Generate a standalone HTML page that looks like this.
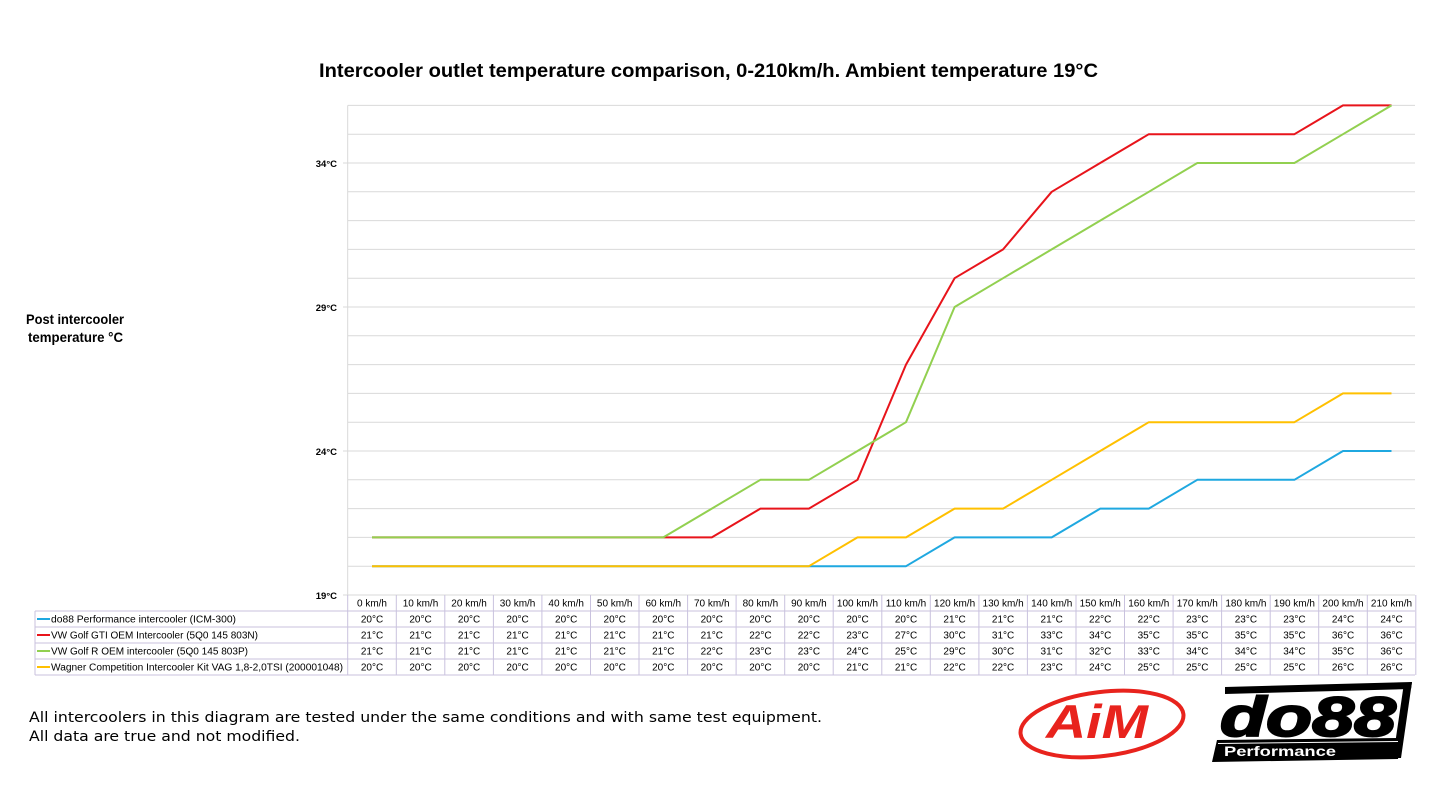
<!DOCTYPE html>
<html><head><meta charset="utf-8"><style>
html,body{margin:0;padding:0;background:#fff;}
svg{display:block;}
</style></head><body>
<svg width="1445" height="791" viewBox="0 0 1445 791" xmlns="http://www.w3.org/2000/svg">
<rect width="1445" height="791" fill="#fff"/>
<!-- Title -->
<text x="319" y="77" font-family="Liberation Sans, sans-serif" font-weight="bold" font-size="19" fill="#000" textLength="779" lengthAdjust="spacingAndGlyphs">Intercooler outlet temperature comparison, 0-210km/h. Ambient temperature 19°C</text>
<!-- Y axis title -->
<text x="26" y="324" font-family="Liberation Sans, sans-serif" font-weight="bold" font-size="14" textLength="98" lengthAdjust="spacingAndGlyphs">Post intercooler</text>
<text x="28" y="342" font-family="Liberation Sans, sans-serif" font-weight="bold" font-size="14" textLength="95" lengthAdjust="spacingAndGlyphs">temperature °C</text>
<!-- gridlines -->
<g stroke="#d9d9d9" stroke-width="1">
<line x1="347.7" y1="105.4" x2="1415" y2="105.4"/>
<line x1="347.7" y1="134.2" x2="1415" y2="134.2"/>
<line x1="343" y1="163" x2="1415" y2="163"/>
<line x1="347.7" y1="191.8" x2="1415" y2="191.8"/>
<line x1="347.7" y1="220.6" x2="1415" y2="220.6"/>
<line x1="347.7" y1="249.4" x2="1415" y2="249.4"/>
<line x1="347.7" y1="278.2" x2="1415" y2="278.2"/>
<line x1="343" y1="307" x2="1415" y2="307"/>
<line x1="347.7" y1="335.8" x2="1415" y2="335.8"/>
<line x1="347.7" y1="364.6" x2="1415" y2="364.6"/>
<line x1="347.7" y1="393.4" x2="1415" y2="393.4"/>
<line x1="347.7" y1="422.2" x2="1415" y2="422.2"/>
<line x1="343" y1="451" x2="1415" y2="451"/>
<line x1="347.7" y1="479.8" x2="1415" y2="479.8"/>
<line x1="347.7" y1="508.6" x2="1415" y2="508.6"/>
<line x1="347.7" y1="537.4" x2="1415" y2="537.4"/>
<line x1="347.7" y1="566.2" x2="1415" y2="566.2"/>
<line x1="343" y1="595" x2="1415" y2="595"/>
<line x1="347.7" y1="105.4" x2="347.7" y2="595"/>
</g>
<!-- y tick labels -->
<g font-family="Liberation Sans, sans-serif" font-weight="bold" font-size="9.5" text-anchor="end" fill="#000">
<text x="337" y="167">34°C</text>
<text x="337" y="311">29°C</text>
<text x="337" y="455">24°C</text>
<text x="337" y="599">19°C</text>
</g>
<!-- series -->
<g fill="none" stroke-width="2" stroke-linejoin="round">
<polyline stroke="#1fa8e0" points="372,566.2 906,566.2 954.6,537.4 1051.7,537.4 1100.2,508.6 1148.8,508.6 1197.3,479.8 1294.4,479.8 1343,451 1391.5,451"/>
<polyline stroke="#e8141b" points="372,537.4 711.8,537.4 760.4,508.6 808.9,508.6 857.5,479.8 906,364.6 954.6,278.2 1003.1,249.4 1051.7,191.8 1100.2,163 1148.8,134.2 1294.4,134.2 1343,105.4 1391.5,105.4"/>
<polyline stroke="#92d050" points="372,537.4 663.3,537.4 711.8,508.6 760.4,479.8 808.9,479.8 857.5,451 906,422.2 954.6,307 1003.1,278.2 1051.7,249.4 1100.2,220.6 1148.8,191.8 1197.3,163 1294.4,163 1343,134.2 1391.5,105.4"/>
<polyline stroke="#ffc000" points="372,566.2 808.9,566.2 857.5,537.4 906,537.4 954.6,508.6 1003.1,508.6 1051.7,479.8 1100.2,451 1148.8,422.2 1294.4,422.2 1343,393.4 1391.5,393.4"/>
</g>
<!-- table grid -->
<g stroke="#c9c2de" stroke-width="1">
<line x1="347.7" y1="611" x2="1415" y2="611"/>
<line x1="35" y1="611" x2="347.7" y2="611"/>
<line x1="35" y1="627" x2="1415" y2="627"/>
<line x1="35" y1="643" x2="1415" y2="643"/>
<line x1="35" y1="659" x2="1415" y2="659"/>
<line x1="35" y1="675" x2="1415" y2="675"/>
<line x1="35" y1="611" x2="35" y2="675"/>
<line x1="347.7" y1="595" x2="347.7" y2="675"/>
<line x1="396.3" y1="595" x2="396.3" y2="675"/>
<line x1="444.8" y1="595" x2="444.8" y2="675"/>
<line x1="493.4" y1="595" x2="493.4" y2="675"/>
<line x1="541.9" y1="595" x2="541.9" y2="675"/>
<line x1="590.5" y1="595" x2="590.5" y2="675"/>
<line x1="639" y1="595" x2="639" y2="675"/>
<line x1="687.6" y1="595" x2="687.6" y2="675"/>
<line x1="736.1" y1="595" x2="736.1" y2="675"/>
<line x1="784.7" y1="595" x2="784.7" y2="675"/>
<line x1="833.2" y1="595" x2="833.2" y2="675"/>
<line x1="881.8" y1="595" x2="881.8" y2="675"/>
<line x1="930.3" y1="595" x2="930.3" y2="675"/>
<line x1="978.9" y1="595" x2="978.9" y2="675"/>
<line x1="1027.4" y1="595" x2="1027.4" y2="675"/>
<line x1="1076" y1="595" x2="1076" y2="675"/>
<line x1="1124.5" y1="595" x2="1124.5" y2="675"/>
<line x1="1173.1" y1="595" x2="1173.1" y2="675"/>
<line x1="1221.6" y1="595" x2="1221.6" y2="675"/>
<line x1="1270.2" y1="595" x2="1270.2" y2="675"/>
<line x1="1318.7" y1="595" x2="1318.7" y2="675"/>
<line x1="1367.3" y1="595" x2="1367.3" y2="675"/>
<line x1="1415.8" y1="595" x2="1415.8" y2="675"/>
</g>
<!-- legend -->
<g stroke-width="2">
<line x1="37" y1="619" x2="50" y2="619" stroke="#1fa8e0"/>
<line x1="37" y1="635" x2="50" y2="635" stroke="#e8141b"/>
<line x1="37" y1="651" x2="50" y2="651" stroke="#92d050"/>
<line x1="37" y1="667" x2="50" y2="667" stroke="#ffc000"/>
</g>
<g font-family="Liberation Sans, sans-serif" font-size="10" fill="#000">
<text x="51" y="622.5" textLength="185" lengthAdjust="spacingAndGlyphs">do88 Performance intercooler (ICM-300)</text>
<text x="51" y="638.5" textLength="207" lengthAdjust="spacingAndGlyphs">VW Golf GTI OEM Intercooler (5Q0 145 803N)</text>
<text x="51" y="654.5" textLength="197" lengthAdjust="spacingAndGlyphs">VW Golf R OEM intercooler (5Q0 145 803P)</text>
<text x="51" y="670.5" textLength="292" lengthAdjust="spacingAndGlyphs">Wagner Competition Intercooler Kit VAG 1,8-2,0TSI (200001048)</text>
</g>
<!-- table values -->
<g font-family="Liberation Sans, sans-serif" font-size="10" fill="#000" text-anchor="middle">
<text x="372" y="606.5">0 km/h</text><text x="420.5" y="606.5">10 km/h</text><text x="469.1" y="606.5">20 km/h</text><text x="517.6" y="606.5">30 km/h</text><text x="566.2" y="606.5">40 km/h</text><text x="614.7" y="606.5">50 km/h</text><text x="663.3" y="606.5">60 km/h</text><text x="711.8" y="606.5">70 km/h</text><text x="760.4" y="606.5">80 km/h</text><text x="808.9" y="606.5">90 km/h</text><text x="857.5" y="606.5">100 km/h</text><text x="906" y="606.5">110 km/h</text><text x="954.6" y="606.5">120 km/h</text><text x="1003.1" y="606.5">130 km/h</text><text x="1051.7" y="606.5">140 km/h</text><text x="1100.2" y="606.5">150 km/h</text><text x="1148.8" y="606.5">160 km/h</text><text x="1197.3" y="606.5">170 km/h</text><text x="1245.9" y="606.5">180 km/h</text><text x="1294.4" y="606.5">190 km/h</text><text x="1343" y="606.5">200 km/h</text><text x="1391.5" y="606.5">210 km/h</text>

<text x="372" y="622.5">20°C</text><text x="420.5" y="622.5">20°C</text><text x="469.1" y="622.5">20°C</text><text x="517.6" y="622.5">20°C</text><text x="566.2" y="622.5">20°C</text><text x="614.7" y="622.5">20°C</text><text x="663.3" y="622.5">20°C</text><text x="711.8" y="622.5">20°C</text><text x="760.4" y="622.5">20°C</text><text x="808.9" y="622.5">20°C</text><text x="857.5" y="622.5">20°C</text><text x="906" y="622.5">20°C</text><text x="954.6" y="622.5">21°C</text><text x="1003.1" y="622.5">21°C</text><text x="1051.7" y="622.5">21°C</text><text x="1100.2" y="622.5">22°C</text><text x="1148.8" y="622.5">22°C</text><text x="1197.3" y="622.5">23°C</text><text x="1245.9" y="622.5">23°C</text><text x="1294.4" y="622.5">23°C</text><text x="1343" y="622.5">24°C</text><text x="1391.5" y="622.5">24°C</text>

<text x="372" y="638.5">21°C</text><text x="420.5" y="638.5">21°C</text><text x="469.1" y="638.5">21°C</text><text x="517.6" y="638.5">21°C</text><text x="566.2" y="638.5">21°C</text><text x="614.7" y="638.5">21°C</text><text x="663.3" y="638.5">21°C</text><text x="711.8" y="638.5">21°C</text><text x="760.4" y="638.5">22°C</text><text x="808.9" y="638.5">22°C</text><text x="857.5" y="638.5">23°C</text><text x="906" y="638.5">27°C</text><text x="954.6" y="638.5">30°C</text><text x="1003.1" y="638.5">31°C</text><text x="1051.7" y="638.5">33°C</text><text x="1100.2" y="638.5">34°C</text><text x="1148.8" y="638.5">35°C</text><text x="1197.3" y="638.5">35°C</text><text x="1245.9" y="638.5">35°C</text><text x="1294.4" y="638.5">35°C</text><text x="1343" y="638.5">36°C</text><text x="1391.5" y="638.5">36°C</text>

<text x="372" y="654.5">21°C</text><text x="420.5" y="654.5">21°C</text><text x="469.1" y="654.5">21°C</text><text x="517.6" y="654.5">21°C</text><text x="566.2" y="654.5">21°C</text><text x="614.7" y="654.5">21°C</text><text x="663.3" y="654.5">21°C</text><text x="711.8" y="654.5">22°C</text><text x="760.4" y="654.5">23°C</text><text x="808.9" y="654.5">23°C</text><text x="857.5" y="654.5">24°C</text><text x="906" y="654.5">25°C</text><text x="954.6" y="654.5">29°C</text><text x="1003.1" y="654.5">30°C</text><text x="1051.7" y="654.5">31°C</text><text x="1100.2" y="654.5">32°C</text><text x="1148.8" y="654.5">33°C</text><text x="1197.3" y="654.5">34°C</text><text x="1245.9" y="654.5">34°C</text><text x="1294.4" y="654.5">34°C</text><text x="1343" y="654.5">35°C</text><text x="1391.5" y="654.5">36°C</text>

<text x="372" y="670.5">20°C</text><text x="420.5" y="670.5">20°C</text><text x="469.1" y="670.5">20°C</text><text x="517.6" y="670.5">20°C</text><text x="566.2" y="670.5">20°C</text><text x="614.7" y="670.5">20°C</text><text x="663.3" y="670.5">20°C</text><text x="711.8" y="670.5">20°C</text><text x="760.4" y="670.5">20°C</text><text x="808.9" y="670.5">20°C</text><text x="857.5" y="670.5">21°C</text><text x="906" y="670.5">21°C</text><text x="954.6" y="670.5">22°C</text><text x="1003.1" y="670.5">22°C</text><text x="1051.7" y="670.5">23°C</text><text x="1100.2" y="670.5">24°C</text><text x="1148.8" y="670.5">25°C</text><text x="1197.3" y="670.5">25°C</text><text x="1245.9" y="670.5">25°C</text><text x="1294.4" y="670.5">25°C</text><text x="1343" y="670.5">26°C</text><text x="1391.5" y="670.5">26°C</text>
</g>
<!-- footer text -->
<g font-family="DejaVu Sans, Liberation Sans, sans-serif" font-size="14" fill="#000">
<text x="29" y="722" textLength="793" lengthAdjust="spacingAndGlyphs">All intercoolers in this diagram are tested under the same conditions and with same test equipment.</text>
<text x="29" y="741" textLength="271" lengthAdjust="spacingAndGlyphs">All data are true and not modified.</text>
</g>
<!-- AiM logo -->
<g>
<ellipse cx="1102" cy="724" rx="82" ry="32" transform="rotate(-7 1102 724)" fill="none" stroke="#e8231d" stroke-width="4"/>
<text x="1046" y="738" font-family="Liberation Sans, sans-serif" font-weight="bold" font-style="italic" font-size="47" fill="#e8231d" textLength="102" lengthAdjust="spacingAndGlyphs">AiM</text>
</g>
<!-- do88 logo -->
<g>
<polygon points="1225,687 1412,682 1411,689 1225,694" fill="#000"/>
<polygon points="1404,683 1412,682 1401,758 1393,758" fill="#000"/>
<polygon points="1217,740 1401,738 1398,759 1212,762" fill="#000"/>
<line x1="1218" y1="743.5" x2="1398" y2="741.5" stroke="#fff" stroke-width="1"/>
<text x="1220" y="736" font-family="Liberation Sans, sans-serif" font-weight="bold" font-style="italic" font-size="56" fill="#000" stroke="#000" stroke-width="2" textLength="176" lengthAdjust="spacingAndGlyphs">do88</text>
<text x="1224" y="756" font-family="Liberation Sans, sans-serif" font-weight="bold" font-size="13.5" fill="#fff" textLength="112" lengthAdjust="spacingAndGlyphs">Performance</text>
</g>
</svg>
</body></html>
